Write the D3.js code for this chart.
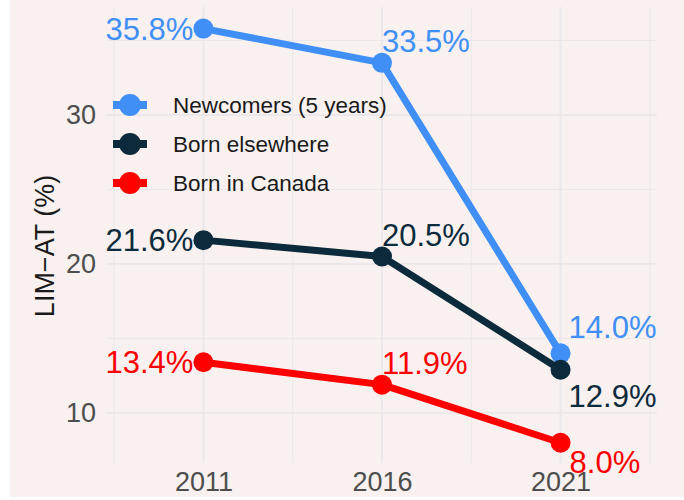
<!DOCTYPE html>
<html>
<head>
<meta charset="utf-8">
<script src="https://cdn.jsdelivr.net/npm/d3@7"></script>
<style>
  html, body { margin: 0; padding: 0; background: #ffffff; }
  svg { display: block; font-family: "Liberation Sans", Arial, sans-serif; }
</style>
</head>
<body>
<svg id="chart" width="684" height="500"></svg>
<script>
// ---- data ----
const years = [2011, 2016, 2021];
const seriesNames = ["Newcomers (5 years)", "Born elsewhere", "Born in Canada"];
const newcomers = [35.8, 33.5, 14.0];
const bornElsewhere = [21.6, 20.5, 12.9];
const bornInCanada = [13.4, 11.9, 8.0];
const yTicks = [10, 20, 30];
const xTicks = [2011, 2016, 2021];
const yTitle = "LIM\u2212AT (%)";

// ---- layout / style (not data) ----
const colors = ["#3f8ff7", "#0b2a3c", "#fe0000"];
// label nudges [dx, dy, anchor] per series per year
const labelPlacement = [
  [[-10, 11, "end"], [0, -11, "start"], [8, -15, "start"]],
  [[-10, 11, "end"], [0, -11, "start"], [8, 37, "start"]],
  [[-10, 11, "end"], [0, -11, "start"], [9, 30, "start"]]
];

const svg = d3.select("#chart");
const W = 684, H = 500;
const panel = { left: 107, right: 657, top: 7, bottom: 463 };

svg.append("rect").attr("x", 10).attr("y", 0).attr("width", W - 10).attr("height", 497)
  .attr("fill", "#f8f1f0");

const x = d3.scaleLinear().domain([2008.3, 2023.7]).range([panel.left, panel.right]);
const y = d3.scaleLinear().domain([6.64, 37.25]).range([panel.bottom, panel.top]);

// grid
const gridColor = "#ebe7ea";
const xMinor = [2008.5, 2013.5, 2018.5, 2023.5];
const yMinor = [15, 25, 35];
const grid = svg.append("g");
grid.selectAll(".ymin").data(yMinor).join("line")
  .attr("x1", panel.left).attr("x2", panel.right)
  .attr("y1", d => y(d)).attr("y2", d => y(d))
  .attr("stroke", gridColor).attr("stroke-width", 1);
grid.selectAll(".xmin").data(xMinor).join("line")
  .attr("y1", panel.top).attr("y2", panel.bottom)
  .attr("x1", d => x(d)).attr("x2", d => x(d))
  .attr("stroke", gridColor).attr("stroke-width", 1);
grid.selectAll(".ymaj").data(yTicks).join("line")
  .attr("x1", panel.left).attr("x2", panel.right)
  .attr("y1", d => y(d)).attr("y2", d => y(d))
  .attr("stroke", gridColor).attr("stroke-width", 1.8);
grid.selectAll(".xmaj").data(xTicks).join("line")
  .attr("y1", panel.top).attr("y2", panel.bottom)
  .attr("x1", d => x(d)).attr("x2", d => x(d))
  .attr("stroke", gridColor).attr("stroke-width", 1.8);

// axes (text only, via d3 axes)
const yAxis = svg.append("g").attr("transform", `translate(${panel.left},0)`)
  .call(d3.axisLeft(y).tickValues(yTicks).tickSize(0).tickPadding(11));
yAxis.select(".domain").remove();
yAxis.selectAll("text").attr("fill", "#4d4d4d").style("font-size", "27px")
  .style("font-family", "'Liberation Sans', Arial, sans-serif");

const xAxis = svg.append("g").attr("transform", `translate(0,${panel.bottom})`)
  .call(d3.axisBottom(x).tickValues(xTicks).tickFormat(d3.format("d")).tickSize(0).tickPadding(9));
xAxis.select(".domain").remove();
xAxis.selectAll("text").attr("fill", "#4d4d4d").style("font-size", "27px")
  .style("font-family", "'Liberation Sans', Arial, sans-serif");

svg.append("text")
  .attr("transform", "translate(54,246) rotate(-90)")
  .attr("text-anchor", "middle")
  .attr("fill", "#1a1a1a")
  .style("font-size", "27px")
  .text(yTitle);

// series
const allValues = [newcomers, bornElsewhere, bornInCanada];
const series = seriesNames.map((name, i) => ({
  name, color: colors[i],
  points: years.map((yr, j) => ({ year: yr, value: allValues[i][j], place: labelPlacement[i][j] }))
}));

const line = d3.line().x(d => x(d.year)).y(d => y(d.value));

// draw in reverse so Newcomers on top? In reference, Born elsewhere point is over blue at 2021
const drawOrder = [0, 2, 1];
drawOrder.forEach(i => {
  const s = series[i];
  const g = svg.append("g");
  g.append("path").datum(s.points).attr("d", line)
    .attr("fill", "none").attr("stroke", s.color).attr("stroke-width", 7)
    .attr("stroke-linejoin", "round");
  g.selectAll("circle").data(s.points).join("circle")
    .attr("cx", d => x(d.year)).attr("cy", d => y(d.value)).attr("r", 10)
    .attr("fill", s.color);
});

// labels
series.forEach(s => {
  svg.append("g").selectAll("text").data(s.points).join("text")
    .attr("x", d => x(d.year) + d.place[0])
    .attr("y", d => y(d.value) + d.place[1])
    .attr("text-anchor", d => d.place[2])
    .attr("fill", s.color)
    .style("font-size", "31px")
    .text(d => d.value.toFixed(1) + "%");
});

// legend
const legend = svg.append("g").attr("transform", "translate(113,105)");
const rowH = 39;
series.forEach((s, i) => {
  const r = legend.append("g").attr("transform", `translate(0,${i * rowH})`);
  r.append("line").attr("x1", 0).attr("x2", 34).attr("y1", 0).attr("y2", 0)
    .attr("stroke", s.color).attr("stroke-width", 8);
  r.append("circle").attr("cx", 17).attr("cy", 0).attr("r", 11).attr("fill", s.color);
  r.append("text").attr("x", 60).attr("y", 0).attr("dy", "0.36em")
    .attr("fill", "#1a1a1a").style("font-size", "22.5px").text(s.name);
});
</script>
</body>
</html>
